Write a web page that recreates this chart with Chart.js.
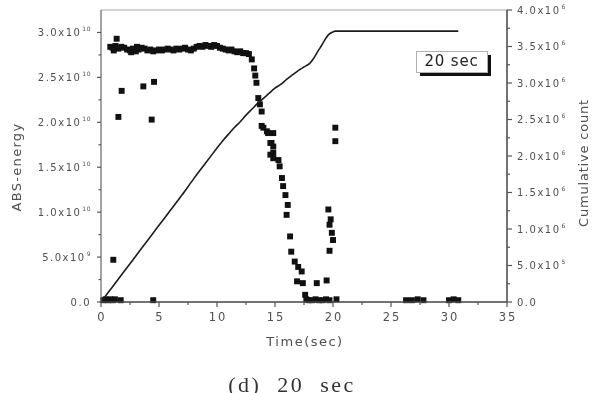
<!DOCTYPE html>
<html>
<head>
<meta charset="utf-8">
<script src="https://cdn.jsdelivr.net/npm/chart.js@4"></script>
<style>
  html, body { margin: 0; padding: 0; background: #fff; }
  #wrap { width: 596px; height: 393px; }
</style>
</head>
<body>
<div id="wrap"><canvas id="absChart" width="596" height="393"></canvas></div>
<script>
// cumulative count (x10^6) against time (sec)
const countTimes = [0, 1, 2, 3, 4, 5, 6, 7, 8, 9, 10, 10.5, 11, 11.5, 12, 12.5, 13, 13.5, 14, 14.5, 15, 15.5, 16, 16.5, 17, 17.5, 18, 18.3, 18.6, 19, 19.3, 19.6, 20, 20.2, 30.8];
const countValues = [0, 0.21, 0.42, 0.63, 0.84, 1.05, 1.26, 1.47, 1.69, 1.90, 2.11, 2.21, 2.30, 2.39, 2.47, 2.56, 2.64, 2.72, 2.79, 2.86, 2.93, 2.98, 3.05, 3.11, 3.17, 3.22, 3.27, 3.33, 3.41, 3.51, 3.59, 3.66, 3.70, 3.71, 3.71];

// ABS-energy (x10^10) against time (sec)
const energyTimes = [
  0.2, 0.4, 0.6, 0.8, 1.0, 1.2, 1.7, 4.5, 1.06,
  1.35, 1.78, 1.5, 3.65, 4.57, 4.37,
  0.8, 1.0, 1.1, 1.25, 1.5, 1.75, 2.0, 2.25, 2.5, 2.6, 2.75, 3.0, 3.1, 3.25, 3.5, 3.75, 4.0, 4.25, 4.5, 4.75,
  5.0, 5.25, 5.5, 5.75, 6.0, 6.25, 6.5, 6.75, 7.0, 7.25, 7.5, 7.75, 8.0, 8.25, 8.5, 8.75, 9.0, 9.25, 9.5, 9.75,
  10.0, 10.25, 10.5, 10.75, 11.0, 11.25, 11.5, 11.75, 12.0, 12.25, 12.5, 12.75, 13.0, 13.2, 13.3,
  13.4, 13.56, 13.7, 13.85, 13.85, 14.0, 14.3, 14.4, 14.85, 14.6, 14.7, 14.85, 14.85, 14.6, 14.85, 15.3, 15.4,
  15.6, 15.7, 15.9, 16.1, 16.0, 16.3, 16.4, 16.7, 17.0, 17.3, 16.9, 17.4, 17.6, 17.7,
  18.6, 19.45, 17.9, 18.2, 18.5, 18.8, 19.1, 19.4, 19.7, 20.3,
  20.2, 20.2, 19.6, 19.7, 19.8, 19.9, 20.0, 19.7,
  26.3, 26.8, 27.3, 27.8, 30.0, 30.4, 30.8
];
const energyValues = [
  0.02, 0.03, 0.02, 0.03, 0.02, 0.03, 0.02, 0.02, 0.47,
  2.93, 2.35, 2.06, 2.40, 2.45, 2.03,
  2.84, 2.83, 2.80, 2.85, 2.82, 2.84, 2.83, 2.81, 2.80, 2.78, 2.82, 2.79, 2.84, 2.81, 2.83, 2.82, 2.80, 2.81, 2.79, 2.80,
  2.81, 2.80, 2.81, 2.82, 2.81, 2.80, 2.82, 2.81, 2.82, 2.83, 2.81, 2.80, 2.82, 2.84, 2.85, 2.84, 2.86, 2.85, 2.84, 2.86,
  2.85, 2.83, 2.82, 2.81, 2.80, 2.81, 2.79, 2.78, 2.79, 2.77, 2.77, 2.76, 2.70, 2.60, 2.52,
  2.44, 2.27, 2.20, 2.12, 1.96, 1.94, 1.90, 1.88, 1.88, 1.77, 1.77, 1.73, 1.66, 1.64, 1.60, 1.58, 1.51,
  1.38, 1.29, 1.19, 1.08, 0.97, 0.73, 0.56, 0.45, 0.39, 0.34, 0.23, 0.21, 0.08, 0.03,
  0.21, 0.24, 0.02, 0.02, 0.03, 0.02, 0.02, 0.03, 0.02, 0.03,
  1.94, 1.79, 1.03, 0.86, 0.92, 0.77, 0.69, 0.57,
  0.02, 0.02, 0.03, 0.02, 0.02, 0.03, 0.02
];

const xTicks = [0, 5, 10, 15, 20, 25, 30, 35];
const leftTicks = [0, 0.5, 1.0, 1.5, 2.0, 2.5, 3.0];
const leftMantissa = ['0.0', '5.0x10', '1.0x10', '1.5x10', '2.0x10', '2.5x10', '3.0x10'];
const leftExponent = ['', '9', '10', '10', '10', '10', '10'];
const rightTicks = [0, 0.5, 1.0, 1.5, 2.0, 2.5, 3.0, 3.5, 4.0];
const rightMantissa = ['0.0', '5.0x10', '1.0x10', '1.5x10', '2.0x10', '2.5x10', '3.0x10', '3.5x10', '4.0x10'];
const rightExponent = ['', '5', '6', '6', '6', '6', '6', '6', '6'];

const energyPoints = energyTimes.map((t, i) => ({ x: t, y: energyValues[i] }));
const countPoints = countTimes.map((t, i) => ({ x: t, y: countValues[i] }));

function drawSci(ctx, mant, exp, px, py, align) {
  ctx.font = '10px "DejaVu Sans"';
  ctx.letterSpacing = '1.5px';
  const w1 = ctx.measureText(mant).width;
  ctx.font = '6px "DejaVu Sans"';
  ctx.letterSpacing = '0.5px';
  const w2 = exp ? ctx.measureText(exp).width + 1 : 0;
  const start = align === 'right' ? px - w1 - w2 : px;
  ctx.textAlign = 'left';
  ctx.textBaseline = 'middle';
  ctx.font = '10px "DejaVu Sans"';
  ctx.letterSpacing = '1.5px';
  ctx.fillText(mant, start, py + 1);
  if (exp) {
    ctx.font = '6px "DejaVu Sans"';
    ctx.letterSpacing = '0.5px';
    ctx.fillText(exp, start + w1 + 1, py - 3);
  }
}

const axisDecor = {
  id: 'axisDecor',
  afterDraw(chart) {
    const { ctx, chartArea: a, scales } = chart;
    const x = scales.x, y = scales.y, y1 = scales.y1;
    ctx.save();

    // frame
    ctx.lineWidth = 1.2;
    ctx.strokeStyle = '#a8a8a8';
    ctx.beginPath(); ctx.moveTo(a.left, a.top); ctx.lineTo(a.right, a.top); ctx.stroke();
    ctx.strokeStyle = '#666';
    ctx.beginPath(); ctx.moveTo(a.left, a.top); ctx.lineTo(a.left, a.bottom); ctx.stroke();
    ctx.strokeStyle = '#444';
    ctx.lineWidth = 1.5;
    ctx.beginPath(); ctx.moveTo(a.left, a.bottom); ctx.lineTo(a.right, a.bottom); ctx.stroke();
    ctx.beginPath(); ctx.moveTo(a.right, a.top); ctx.lineTo(a.right, a.bottom); ctx.stroke();

    // tick marks
    ctx.lineWidth = 1.2;
    ctx.strokeStyle = '#555';
    for (let v = 0; v <= 35; v += 2.5) {
      const px = x.getPixelForValue(v);
      const len = v % 5 === 0 ? 5 : 3;
      ctx.beginPath(); ctx.moveTo(px, a.bottom); ctx.lineTo(px, a.bottom + len); ctx.stroke();
    }
    for (let v = 0; v <= 3.0001; v += 0.25) {
      const py = y.getPixelForValue(v);
      const len = Math.abs(v * 2 - Math.round(v * 2)) < 1e-6 ? 4 : 2.5;
      ctx.beginPath(); ctx.moveTo(a.left, py); ctx.lineTo(a.left - len, py); ctx.stroke();
    }
    for (let v = 0; v <= 4.0001; v += 0.25) {
      const py = y1.getPixelForValue(v);
      const len = Math.abs(v * 2 - Math.round(v * 2)) < 1e-6 ? 5 : 3;
      ctx.beginPath(); ctx.moveTo(a.right, py); ctx.lineTo(a.right + len, py); ctx.stroke();
    }

    // tick labels
    ctx.fillStyle = '#505050';
    ctx.font = '11.5px "DejaVu Sans"';
    ctx.letterSpacing = '2px';
    ctx.textAlign = 'center';
    ctx.textBaseline = 'middle';
    xTicks.forEach(v => ctx.fillText(String(v), x.getPixelForValue(v) + 1, a.bottom + 16));
    leftTicks.forEach((v, i) => drawSci(ctx, leftMantissa[i], leftExponent[i], a.left - 10, y.getPixelForValue(v), 'right'));
    rightTicks.forEach((v, i) => drawSci(ctx, rightMantissa[i], rightExponent[i], a.right + 10, y1.getPixelForValue(v), 'left'));

    // axis titles
    ctx.font = '13px "DejaVu Sans"';
    ctx.letterSpacing = '1.5px';
    ctx.textAlign = 'center';
    ctx.textBaseline = 'middle';
    ctx.fillText('Time(sec)', 305, 343);
    ctx.save();
    ctx.translate(18, 167); ctx.rotate(-Math.PI / 2);
    ctx.letterSpacing = '1.3px';
    ctx.fillText('ABS-energy', 0, 0);
    ctx.restore();
    ctx.save();
    ctx.translate(585, 163); ctx.rotate(-Math.PI / 2);
    ctx.letterSpacing = '0.8px';
    ctx.fillText('Cumulative count', 0, 0);
    ctx.restore();

    // legend box "20 sec"
    const bx = 416, by = 51, bw = 71, bh = 21;
    ctx.fillStyle = '#111';
    ctx.fillRect(bx + 4, by + 4, bw, bh);
    ctx.fillStyle = '#fff';
    ctx.fillRect(bx, by, bw, bh);
    ctx.strokeStyle = '#b0b0b0';
    ctx.lineWidth = 1;
    ctx.strokeRect(bx + 0.5, by + 0.5, bw, bh);
    ctx.fillStyle = '#222';
    ctx.font = '15px "DejaVu Sans"';
    ctx.letterSpacing = '0.8px';
    ctx.fillText('20 sec', bx + bw / 2, by + bh / 2 + 1);

    // caption
    ctx.fillStyle = '#333';
    ctx.font = '22px "Liberation Serif"';
    ctx.letterSpacing = '2.5px';
    ctx.textBaseline = 'alphabetic';
    ctx.fillText('(d)  20  sec', 292, 392);

    ctx.restore();
  }
};

document.addEventListener('DOMContentLoaded', () => {
  const ctx = document.getElementById('absChart').getContext('2d');
  try {
    new Chart(ctx, {
      type: 'scatter',
      data: {
        datasets: [
          {
            label: 'Cumulative count',
            data: countPoints,
            yAxisID: 'y1',
            showLine: true,
            borderColor: '#1c1c1c',
            borderWidth: 1.6,
            pointRadius: 0,
            tension: 0.3,
            clip: false
          },
          {
            label: 'ABS-energy',
            data: energyPoints,
            yAxisID: 'y',
            pointStyle: 'rect',
            pointRadius: 4.2,
            backgroundColor: '#111',
            borderColor: '#111',
            borderWidth: 0,
            clip: false
          }
        ]
      },
      options: {
        responsive: false,
        animation: false,
        devicePixelRatio: 1,
        layout: { padding: { left: 101, right: 89, top: 10, bottom: 91 } },
        plugins: { legend: { display: false }, tooltip: { enabled: false } },
        scales: {
          x: { type: 'linear', min: 0, max: 35, display: false },
          y: { type: 'linear', min: 0, max: 3.25, display: false },
          y1: { type: 'linear', position: 'right', min: 0, max: 4, display: false }
        }
      },
      plugins: [axisDecor]
    });
  } catch (error) {
    console.error("Chart.js Error: ", error);
  }
});
</script>
</body>
</html>
